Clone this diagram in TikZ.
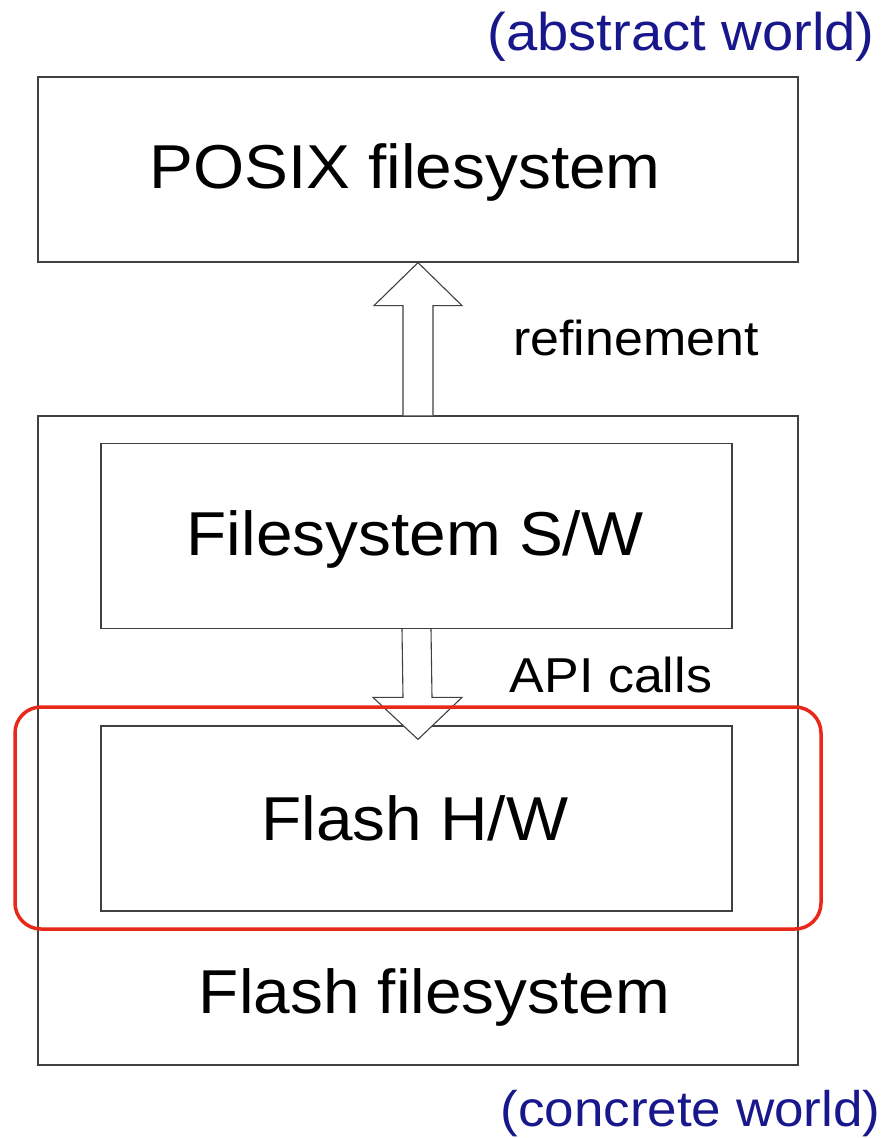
\documentclass[tikz,border=0pt]{standalone}
\usepackage{fontspec}
\setmainfont{Liberation Sans}[FakeStretch=1.06]
\usetikzlibrary{calc}
\definecolor{worldblue}{RGB}{24,24,140}
\definecolor{hwred}{RGB}{232,40,24}
\tikzset{
  box/.style={draw=black!75, line width=1.2pt, fill=white, inner sep=0pt},
  blockarrow/.style={draw=black!75, line width=1.1pt, fill=white, line join=miter},
  lbl/.style={anchor=base, inner sep=0pt},
  big/.style={lbl, font=\fontsize{62}{70}\selectfont},
  mid/.style={lbl, font=\fontsize{49}{56}\selectfont},
  world/.style={lbl, text=worldblue},
}
\begin{document}
\begin{tikzpicture}[x=1pt, y=-1pt]
\useasboundingbox (0,0) rectangle (890,1138);
% boxes
\node[box, minimum width=760pt, minimum height=185pt] (posix) at (418,169.5) {};
\node[box, minimum width=760pt, minimum height=649pt] (flashfs) at (418,740.5) {};
\node[box, minimum width=631pt, minimum height=185pt] (fssw) at (416.5,536) {};
\node[box, minimum width=631pt, minimum height=185pt] (flashhw) at (416.5,818.5) {};
% refinement arrow: from the flash filesystem up to the POSIX filesystem
\draw[blockarrow]
  ($(flashfs.north)+(-15,0)$) -- ($(posix.south)+(-15,43)$) -- ($(posix.south)+(-44,43)$)
  -- (posix.south) -- ($(posix.south)+(44,43)$) -- ($(posix.south)+(15,43)$)
  -- ($(flashfs.north)+(15,0)$);
% API calls arrow: from the filesystem software down to the flash hardware
\coordinate (apitip) at ($(flashhw.north)+(1.5,14)$);
\draw[blockarrow]
  ($(fssw.south)+(-14.5,0)$) -- ($(apitip)+(-15,-42)$) -- ($(apitip)+(-45,-42)$)
  -- (apitip) -- ($(apitip)+(44,-42)$) -- ($(apitip)+(14,-42)$)
  -- ($(fssw.south)+(14.5,0)$);
% hardware frame
\draw[hwred, line width=3.5pt, rounded corners=26pt] (15,707) rectangle (821,929);
% labels
\node[big] (tposix) at (405,188) {POSIX filesystem};
\node[big] (tfssw) at (415,555) {Filesystem S/W};
\node[big] (thw) at (415,840) {Flash H/W};
\node[big] (tflashfs) at (434.5,1013) {Flash filesystem};
\node[mid] (tref) at (636,355) {refinement};
\node[mid] (tapi) at (611,692) {API calls};
\node[world, font=\fontsize{53}{60}\selectfont] (tabs) at (681,50) {(abstract world)};
\node[world, font=\fontsize{50}{58}\selectfont] (tcon) at (690.5,1126) {(concrete world)};
\end{tikzpicture}
\end{document}
